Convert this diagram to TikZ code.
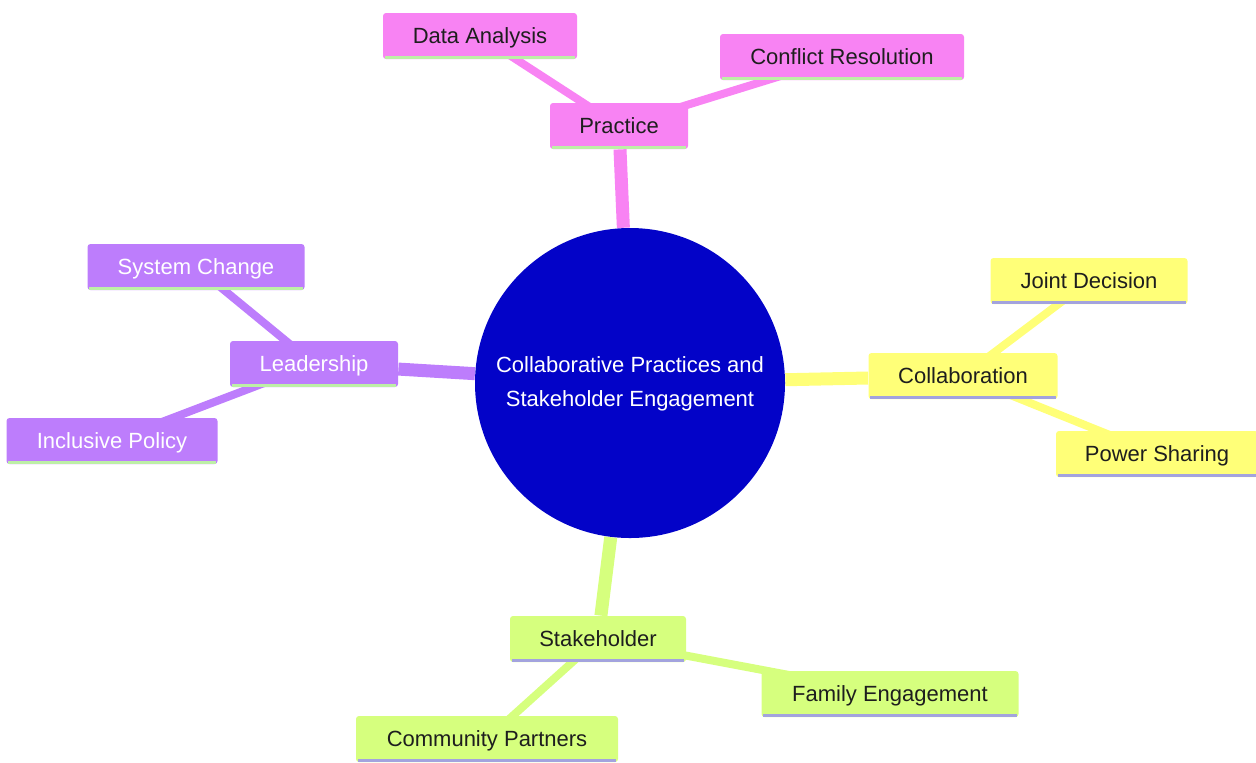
\documentclass[tikz,border=0pt]{standalone}
\usepackage{fontspec}
\setmainfont{Liberation Sans}
\usetikzlibrary{backgrounds}
\definecolor{pinkc}{HTML}{F883F3}
\definecolor{purplec}{HTML}{BD7DFC}
\definecolor{yellowc}{HTML}{FFFF78}
\definecolor{limec}{HTML}{D6FF7E}
\definecolor{rootc}{HTML}{0303C8}
\definecolor{greenline}{HTML}{BDEFA6}
\definecolor{lavline}{HTML}{A3A3DE}
\definecolor{darktext}{HTML}{1E1E1E}
\tikzset{
  box/.style={rectangle, rounded corners=1.5pt, minimum height=23pt, inner sep=0pt,
    text height=8pt, text depth=0.8pt, font=\fontsize{11}{13}\selectfont},
  pinkbox/.style={box, fill=pinkc, text=darktext},
  purplebox/.style={box, fill=purplec, text=white},
  yellowbox/.style={box, fill=yellowc, text=darktext},
  limebox/.style={box, fill=limec, text=darktext},
  mainedge/.style={line width=6.5pt},
  subedge/.style={line width=4pt},
  bline/.style={draw=#1, line width=1.8pt}
}
\begin{document}
\begin{tikzpicture}[x=0.5pt,y=-0.5pt]
\useasboundingbox (0,0) rectangle (1256,762);
% root
\node[circle, fill=rootc, minimum size=155pt, inner sep=0pt, text=white,
  font=\fontsize{11}{17}\selectfont] (root) at (630,383)
  {\raisebox{-1.5pt}{\begin{tabular}{@{}c@{}}Collaborative Practices and\\Stakeholder Engagement\end{tabular}}};
% practice branch
\node[pinkbox, minimum width=69pt] (pr) at (619,126) {Practice};
\node[pinkbox, minimum width=97pt] (da) at (480,36) {Data Analysis};
\node[pinkbox, minimum width=122pt] (cr) at (842,57) {Conflict Resolution};
% collaboration branch
\node[yellowbox, minimum width=94.5pt] (co) at (963,376) {Collaboration};
\node[yellowbox, minimum width=98.5pt] (jd) at (1089,281) {Joint Decision};
\node[yellowbox, minimum width=101pt] (ps) at (1157,454) {Power Sharing};
% leadership branch
\node[purplebox, minimum width=84pt] (le) at (314,364) {Leadership};
\node[purplebox, minimum width=108.5pt] (sc) at (196,267) {System Change};
\node[purplebox, minimum width=105.5pt] (ip) at (112,441) {Inclusive Policy};
% stakeholder branch
\node[limebox, minimum width=88pt] (st) at (598,639) {Stakeholder};
\node[limebox, minimum width=128.5pt] (fe) at (890,694) {Family Engagement};
\node[limebox, minimum width=131pt] (cp) at (487,739) {Community Partners};
% bottom borders
\foreach \n/\c in {pr/greenline,da/greenline,cr/greenline,le/greenline,sc/greenline,ip/greenline,
  co/lavline,jd/lavline,ps/lavline,st/lavline,fe/lavline,cp/lavline}
  \draw[bline=\c] ([xshift=1pt,yshift=0.9pt]\n.south west) -- ([xshift=-1pt,yshift=0.9pt]\n.south east);
% connectors
\begin{scope}[on background layer]
\draw[mainedge, pinkc] (root) -- (pr);
\draw[mainedge, yellowc] (root) -- (co);
\draw[mainedge, purplec] (root) -- (le);
\draw[mainedge, limec] (root) -- (st);
\draw[subedge, pinkc] (pr.center) -- (da.center);
\draw[subedge, pinkc] (pr.center) -- (cr.center);
\draw[subedge, yellowc] (co.center) -- (jd.center);
\draw[subedge, yellowc] (co.center) -- (ps.center);
\draw[subedge, purplec] (le.center) -- (sc.center);
\draw[subedge, purplec] (le.center) -- (ip.center);
\draw[subedge, limec] (st.center) -- (fe.center);
\draw[subedge, limec] (st.center) -- (cp.center);
\end{scope}
\end{tikzpicture}
\end{document}
